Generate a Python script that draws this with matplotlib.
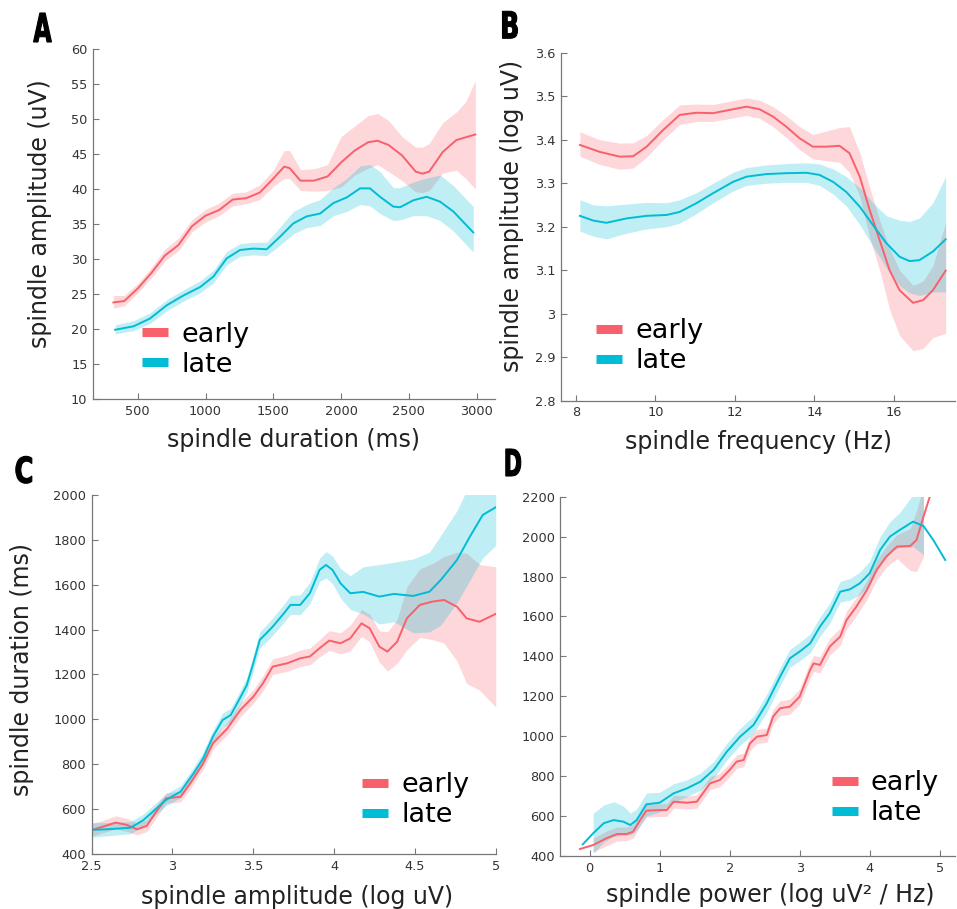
import numpy as np
import matplotlib
matplotlib.use("Agg")
import matplotlib.pyplot as plt
from matplotlib.lines import Line2D
from matplotlib.ticker import FormatStrFormatter
from matplotlib.textpath import TextPath
from matplotlib.patches import PathPatch
from matplotlib.font_manager import FontProperties
from matplotlib.transforms import Affine2D

RED = "#F8606B"
CYAN = "#00BCD4"
nan = np.nan

# ---- A: spindle amplitude vs duration
a_early_x = [320, 400, 500, 600, 700, 800, 900, 1000, 1100, 1200, 1300, 1400, 1500, 1580, 1620,
             1700, 1800, 1900, 2000, 2100, 2200, 2270, 2350, 2450, 2550, 2600, 2650, 2750, 2850, 2920, 2990]
a_early_m = [23.8, 24.0, 25.8, 28.0, 30.5, 32.0, 34.7, 36.2, 37.0, 38.5, 38.7, 39.5, 41.5, 43.2, 43.0,
             41.2, 41.2, 41.8, 43.8, 45.5, 46.7, 46.9, 46.3, 44.8, 42.5, 42.2, 42.5, 45.3, 47.0, 47.4, 47.8]
a_early_lo = [23.0, 23.3, 25.2, 27.3, 29.7, 31.2, 33.9, 35.3, 36.2, 37.6, 37.9, 38.5, 40.4, 41.5, 41.5,
              39.8, 39.7, 39.8, 40.3, 42.0, 43.0, 43.5, 42.5, 41.2, 39.6, 39.5, 39.8, 42.3, 42.7, 41.5, 40.0]
a_early_hi = [24.8, 24.8, 26.5, 28.8, 31.4, 33.0, 35.6, 37.1, 38.0, 39.4, 39.6, 40.6, 42.7, 45.5, 45.5,
              42.8, 42.9, 43.5, 47.5, 49.0, 50.5, 50.8, 49.8, 47.5, 46.0, 46.0, 46.5, 49.5, 51.0, 52.5, 55.5]
a_late_x = [333, 470, 590, 714, 837, 960, 1058, 1156, 1255, 1353, 1451, 1550, 1648, 1746, 1845, 1943,
            2041, 2140, 2213, 2287, 2385, 2435, 2533, 2631, 2730, 2828, 2975]
a_late_m = [19.9, 20.4, 21.5, 23.4, 24.8, 26.0, 27.5, 30.1, 31.3, 31.5, 31.4, 33.2, 35.1, 36.1, 36.5, 38.0,
            38.8, 40.1, 40.1, 38.9, 37.5, 37.4, 38.4, 38.9, 38.2, 36.8, 33.8]
a_late_lo = [19.3, 19.8, 20.8, 22.6, 24.0, 25.2, 26.6, 29.2, 30.4, 30.6, 30.5, 32.0, 33.6, 34.5, 34.8, 36.2,
             36.8, 37.8, 37.6, 36.5, 35.5, 35.6, 36.2, 36.2, 35.5, 34.0, 31.0]
a_late_hi = [20.6, 21.2, 22.3, 24.2, 25.6, 26.9, 28.4, 31.1, 32.2, 32.4, 32.4, 34.6, 36.8, 37.8, 38.5, 40.2,
             41.5, 43.3, 43.5, 42.5, 40.2, 40.2, 41.0, 41.6, 42.0, 40.5, 37.5]

# ---- B: spindle amplitude (log) vs frequency
b_early_x = [8.10, 8.60, 9.10, 9.44, 9.78, 10.19, 10.61, 11.03, 11.45, 11.95, 12.29, 12.62, 12.96, 13.29,
             13.63, 13.96, 14.30, 14.63, 14.88, 15.14, 15.39, 15.64, 15.89, 16.14, 16.48, 16.73, 16.98, 17.30]
b_early_m = [3.388, 3.372, 3.361, 3.362, 3.384, 3.422, 3.457, 3.462, 3.461, 3.470, 3.476, 3.470, 3.453, 3.430,
             3.403, 3.384, 3.384, 3.386, 3.369, 3.315, 3.238, 3.169, 3.100, 3.054, 3.025, 3.031, 3.054, 3.099]
b_early_lo = [3.362, 3.343, 3.332, 3.335, 3.360, 3.400, 3.435, 3.442, 3.442, 3.450, 3.456, 3.449, 3.430, 3.405,
              3.377, 3.356, 3.352, 3.348, 3.325, 3.270, 3.175, 3.100, 3.010, 2.950, 2.915, 2.920, 2.945, 2.955]
b_early_hi = [3.418, 3.400, 3.392, 3.393, 3.410, 3.446, 3.480, 3.482, 3.481, 3.490, 3.496, 3.491, 3.476, 3.455,
              3.430, 3.412, 3.420, 3.428, 3.430, 3.370, 3.290, 3.215, 3.150, 3.100, 3.065, 3.075, 3.110, 3.210]
b_late_x = [8.10, 8.44, 8.77, 9.27, 9.78, 10.28, 10.61, 11.03, 11.45, 11.95, 12.29, 12.79, 13.29, 13.80,
            14.13, 14.47, 14.80, 15.14, 15.47, 15.81, 16.14, 16.39, 16.64, 16.98, 17.30]
b_late_m = [3.225, 3.214, 3.209, 3.219, 3.225, 3.227, 3.234, 3.254, 3.277, 3.303, 3.315, 3.321, 3.323, 3.324,
            3.319, 3.303, 3.280, 3.246, 3.204, 3.162, 3.131, 3.121, 3.123, 3.143, 3.171]
b_late_lo = [3.190, 3.178, 3.172, 3.185, 3.195, 3.200, 3.208, 3.230, 3.255, 3.282, 3.295, 3.300, 3.302, 3.302,
             3.295, 3.275, 3.248, 3.205, 3.155, 3.105, 3.065, 3.048, 3.042, 3.050, 3.050]
b_late_hi = [3.262, 3.250, 3.248, 3.252, 3.256, 3.255, 3.262, 3.278, 3.300, 3.325, 3.336, 3.342, 3.345, 3.347,
             3.344, 3.333, 3.315, 3.290, 3.255, 3.225, 3.215, 3.212, 3.220, 3.255, 3.315]

# ---- C: spindle duration vs amplitude (log)
c_early_x = [2.50, 2.57, 2.65, 2.72, 2.78, 2.84, 2.90, 2.96, 3.05, 3.11, 3.19, 3.25, 3.34, 3.42, 3.50, 3.56,
             3.62, 3.71, 3.79, 3.85, 3.91, 3.97, 4.04, 4.10, 4.17, 4.22, 4.28, 4.33, 4.39, 4.45, 4.53, 4.61,
             4.68, 4.76, 4.82, 4.90, 5.00]
c_early_m = [507, 522, 540, 529, 510, 525, 589, 648, 655, 715, 804, 893, 960, 1042, 1101, 1161,
             1235, 1250, 1272, 1280, 1317, 1351, 1339, 1361, 1428, 1406, 1324, 1302, 1346, 1450, 1510, 1525,
             1532, 1502, 1450, 1435, 1470]
c_early_lo = [480, 495, 512, 500, 485, 500, 562, 625, 632, 690, 778, 866, 932, 1012, 1070, 1128,
              1200, 1214, 1236, 1243, 1278, 1308, 1292, 1305, 1370, 1345, 1255, 1215, 1250, 1310, 1365, 1355,
              1340, 1260, 1160, 1130, 1055]
c_early_hi = [535, 550, 570, 558, 538, 552, 616, 672, 680, 740, 830, 920, 988, 1072, 1132, 1195,
              1270, 1286, 1308, 1318, 1356, 1395, 1386, 1420, 1490, 1468, 1395, 1390, 1445, 1590, 1670, 1695,
              1725, 1745, 1740, 1690, 1680]
c_late_x = [2.50, 2.61, 2.74, 2.82, 2.90, 2.96, 3.05, 3.13, 3.19, 3.25, 3.31, 3.36, 3.40, 3.46, 3.50, 3.54,
            3.58, 3.62, 3.69, 3.73, 3.79, 3.85, 3.91, 3.95, 3.99, 4.04, 4.10, 4.18, 4.28, 4.37, 4.49, 4.59,
            4.66, 4.76, 4.84, 4.92, 5.00]
c_late_m = [507, 511, 517, 551, 603, 641, 678, 759, 826, 923, 997, 1019, 1071, 1153, 1250, 1354,
            1383, 1413, 1473, 1510, 1510, 1562, 1666, 1688, 1666, 1606, 1562, 1568, 1547, 1559, 1550, 1569,
            1621, 1710, 1814, 1911, 1945]
c_late_lo = [475, 482, 490, 525, 578, 615, 652, 732, 798, 894, 966, 988, 1040, 1120, 1215, 1318,
             1345, 1375, 1433, 1468, 1466, 1515, 1615, 1630, 1605, 1540, 1490, 1470, 1425, 1435, 1385, 1390,
             1420, 1520, 1620, 1720, 1775]
c_late_hi = [540, 540, 545, 578, 630, 668, 705, 786, 855, 952, 1028, 1050, 1102, 1186, 1285, 1390,
             1420, 1452, 1513, 1552, 1555, 1610, 1718, 1748, 1728, 1672, 1640, 1680, 1690, 1700, 1715, 1745,
             1820, 1930, 2050, 2150, 2150]

# ---- D: spindle duration vs power (log)
d_early_x = [-0.14, 0.05, 0.24, 0.39, 0.53, 0.62, 0.72, 0.81, 1.00, 1.10, 1.20, 1.39, 1.53, 1.72, 1.86,
             2.00, 2.10, 2.20, 2.29, 2.39, 2.53, 2.62, 2.72, 2.86, 3.00, 3.15, 3.20, 3.29, 3.43, 3.58,
             3.67, 3.81, 3.96, 4.10, 4.24, 4.39, 4.58, 4.67, 4.77, 4.86, 4.91]
d_early_m = [435, 455, 489, 510, 510, 522, 580, 627, 630, 630, 672, 667, 672, 764, 781,
             831, 873, 881, 964, 998, 1006, 1098, 1140, 1148, 1198, 1332, 1365, 1357, 1449, 1499,
             1582, 1649, 1732, 1833, 1900, 1950, 1953, 1983, 2100, 2200, 2280]
d_early_lo = [nan, 420, 452, 475, 478, 490, 548, 595, 598, 598, 640, 635, 640, 732, 748,
              797, 840, 847, 930, 963, 970, 1062, 1103, 1110, 1160, 1292, 1325, 1316, 1407, 1455,
              1537, 1603, 1684, 1783, 1848, 1890, 1830, 1825, 1900, nan, nan]
d_early_hi = [nan, 490, 525, 545, 545, 556, 612, 660, 662, 662, 705, 700, 705, 797, 814,
              865, 907, 915, 998, 1033, 1042, 1134, 1177, 1186, 1237, 1372, 1405, 1398, 1491, 1543,
              1627, 1695, 1780, 1883, 1952, 2010, 2040, 2130, 2250, nan, nan]
d_late_x = [-0.10, 0.05, 0.20, 0.34, 0.48, 0.58, 0.67, 0.81, 1.00, 1.20, 1.39, 1.58, 1.77, 1.96, 2.15,
            2.34, 2.53, 2.72, 2.86, 3.00, 3.15, 3.29, 3.43, 3.58, 3.72, 3.86, 4.00, 4.15, 4.29, 4.43,
            4.62, 4.77, 4.91, 5.08]
d_late_m = [458, 514, 564, 580, 572, 555, 580, 659, 667, 714, 739, 772, 831, 923, 998,
            1056, 1165, 1298, 1390, 1424, 1465, 1549, 1616, 1724, 1736, 1766, 1816, 1933, 2000, 2033,
            2075, 2053, 1983, 1883]
d_late_lo = [nan, 413, 470, 497, 505, 505, 530, 600, 620, 670, 697, 730, 790, 882, 955,
             1013, 1120, 1253, 1345, 1378, 1418, 1500, 1566, 1672, 1682, 1710, 1755, 1865, 1925, 1945,
             1950, 1910, nan, nan]
d_late_hi = [nan, 614, 655, 672, 650, 615, 635, 715, 720, 762, 782, 815, 873, 965, 1040,
             1100, 1210, 1343, 1435, 1470, 1512, 1598, 1666, 1776, 1790, 1822, 1877, 2000, 2075, 2120,
             2210, 2230, nan, nan]

labels = ["early", "late"]

W, H = 957, 909
fig = plt.figure(figsize=(W / 100, H / 100), dpi=100)


def draw_panel(rect, early, late, xlim, ylim, xticks, yticks, xlabel, ylabel,
               xlab_pos, ylab_pos, leg_pos):
    ax = fig.add_axes(rect)
    for (x, m, lo, hi), col in zip([early, late], [RED, CYAN]):
        ax.fill_between(x, np.array(lo, float), np.array(hi, float), color=col, alpha=0.25, lw=0)
        ax.plot(x, m, color=col, lw=1.4)
    ax.set_xlim(*xlim)
    ax.set_ylim(*ylim)
    ax.set_xticks(xticks)
    ax.set_yticks(yticks)
    ax.xaxis.set_major_formatter(FormatStrFormatter("%g"))
    ax.yaxis.set_major_formatter(FormatStrFormatter("%g"))
    for s in ["top", "right"]:
        ax.spines[s].set_visible(False)
    for s in ["left", "bottom"]:
        ax.spines[s].set_color("#777777")
        ax.spines[s].set_linewidth(0.9)
    ax.tick_params(direction="in", length=4, width=0.8, color="#777777",
                   labelsize=9.3, labelcolor="#333333", pad=4)
    ax.set_xlabel(xlabel, fontsize=17, color="#222222")
    ax.xaxis.set_label_coords(*xlab_pos)
    if ylabel:
        ax.set_ylabel(ylabel, fontsize=17, color="#222222")
        ax.yaxis.set_label_coords(*ylab_pos)
    handles = [Line2D([], [], color=RED, lw=6.5, solid_capstyle="butt"),
               Line2D([], [], color=CYAN, lw=6.5, solid_capstyle="butt")]
    ax.legend(handles, labels, loc="center left", bbox_to_anchor=leg_pos, frameon=False,
              fontsize=19.5, handlelength=0.96, handletextpad=0.48, labelspacing=0.15,
              borderpad=0, borderaxespad=0)
    return ax


draw_panel([0.0972, 0.561, 0.420, 0.385],
           (a_early_x, a_early_m, a_early_lo, a_early_hi),
           (a_late_x, a_late_m, a_late_lo, a_late_hi),
           (170, 3135), (10, 60), np.arange(500, 3001, 500), np.arange(10, 61, 5),
           "spindle duration (ms)", "spindle amplitude (uV)",
           (0.5, -0.083), (-0.101, 0.53), (0.122, 0.141))

draw_panel([0.586, 0.5592, 0.4117, 0.3828],
           (b_early_x, b_early_m, b_early_lo, b_early_hi),
           (b_late_x, b_late_m, b_late_lo, b_late_hi),
           (7.62, 17.53), (2.8, 3.6), np.arange(8, 17, 2), np.round(np.arange(2.8, 3.61, 0.1), 1),
           "spindle frequency (Hz)", "spindle amplitude (log uV)",
           (0.502, -0.083), (-0.094, 0.531), (0.0906, 0.157))

draw_panel([0.0958, 0.0605, 0.4222, 0.395],
           (c_early_x, c_early_m, c_early_lo, c_early_hi),
           (c_late_x, c_late_m, c_late_lo, c_late_hi),
           (2.5, 5.0), (400, 2000), np.arange(2.5, 5.01, 0.5), np.arange(400, 2001, 200),
           "spindle amplitude (log uV)", "spindle duration (ms)",
           (0.508, -0.085), (-0.143, 0.515), (0.67, 0.150))

draw_panel([0.5855, 0.0583, 0.4124, 0.3953],
           (d_early_x, d_early_m, d_early_lo, d_early_hi),
           (d_late_x, d_late_m, d_late_lo, d_late_hi),
           (-0.42, 5.22), (400, 2200), np.arange(0, 6, 1), np.arange(400, 2201, 200),
           "spindle power (log uV² / Hz)", None,
           (0.531, -0.075), None, (0.688, 0.161))

# condensed heavy panel letters: bold glyph outlines squeezed horizontally
bold = FontProperties(family="DejaVu Sans", weight="bold")
to_fig = Affine2D().scale(1 / W, 1 / H) + fig.transFigure
for letter, cx, bottom, cap_h, width in [("A", 42.5, 42, 29, 18), ("B", 510, 38.3, 27, 15),
                                         ("C", 23.8, 483.3, 27, 16), ("D", 513.3, 476, 27, 15)]:
    path = TextPath((0, 0), letter, size=40, prop=bold)
    ext = path.get_extents()
    tr = (Affine2D().translate(-(ext.x0 + ext.x1) / 2, -ext.y0)
          .scale(width / ext.width, cap_h / ext.height)
          .translate(cx, H - bottom))
    fig.add_artist(PathPatch(tr.transform_path(path), facecolor="black", edgecolor="black",
                             lw=0.8, transform=to_fig))

fig.savefig("out.png", dpi=100)
